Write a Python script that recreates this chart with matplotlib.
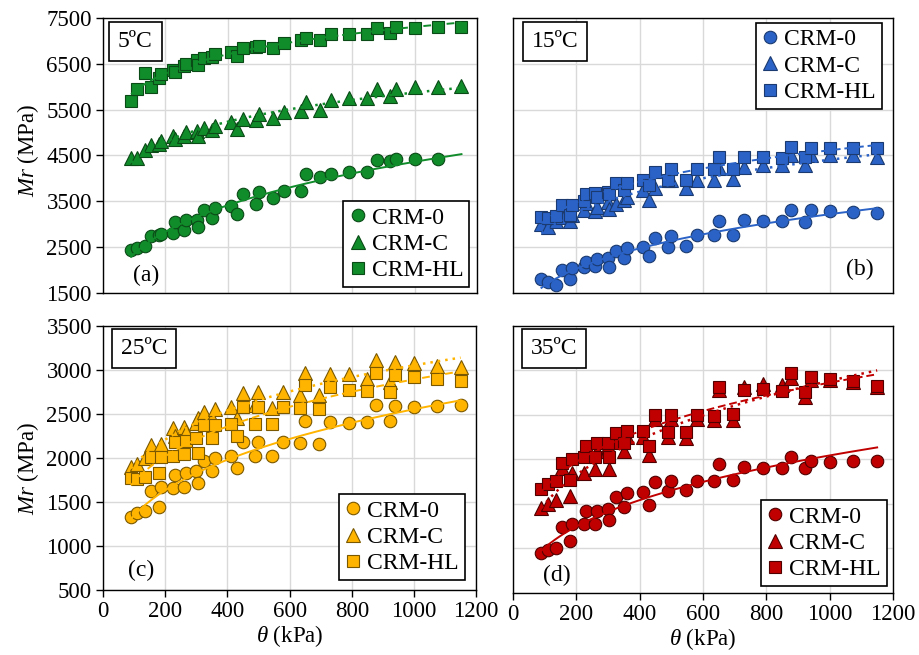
import numpy as np
import matplotlib
matplotlib.use('Agg')
import matplotlib.pyplot as plt

plt.rcParams['font.family'] = ['Liberation Serif', 'DejaVu Serif']
plt.rcParams['mathtext.fontset'] = 'custom'
plt.rcParams['mathtext.rm'] = 'Liberation Serif'
plt.rcParams['mathtext.it'] = 'Liberation Serif:italic'

# bulk stress (kPa), shared by every series
THETA = [90, 110, 136, 155, 180, 187, 225, 230, 259, 266, 300, 304, 325, 350, 360,
         410, 430, 450, 490, 500, 545, 580, 635, 650, 695, 730, 790, 848, 878, 922,
         940, 1000, 1075, 1150]

SERIES = ['CRM-0', 'CRM-C', 'CRM-HL']

# resilient modulus (MPa), 5 C
MR_5_CRM0 = [2445, 2482, 2518, 2736, 2773, 2790, 2809, 3042, 2882, 3085, 3100, 2933, 3304,
             3136, 3355, 3391, 3224, 3667, 3449, 3696, 3573, 3733, 3733, 4104, 4024, 4096,
             4133, 4133, 4409, 4387, 4424, 4424, 4424, np.nan]
MR_5_CRMC = [4445, 4445, 4627, 4736, 4758, 4809, 4918, 4860, 4918, 5005, 5027, 4918, 5100,
             5049, 5151, 5224, 5078, 5296, 5267, 5413, 5318, 5442, 5464, 5660, 5485, 5718,
             5755, 5755, 5951, 5791, 5951, 5995, 5995, 6024]
MR_5_CRMHL = [5700, 5950, 6290, 5990, 6200, 6280, 6365, 6320, 6460, 6500, 6580, 6475, 6634,
              6650, 6707, 6751, 6680, 6838, 6874, 6900, 6838, 6948, 7020, 7057, 7020, 7151,
              7151, 7151, 7289, 7164, 7310, 7289, 7310, 7310]

# 15 C
MR_15_CRM0 = [1798, 1746, 1680, 2001, 1798, 2038, 2074, 2183, 2089, 2234, 2256, 2074, 2423,
              2270, 2474, 2496, 2307, 2707, 2510, 2743, 2525, 2765, 2765, 3077, 2765, 3092,
              3077, 3077, 3310, 3055, 3310, 3295, 3273, 3252]
MR_15_CRMC = [3005, 2950, 3080, 3150, 3078, 3200, 3310, 3457, 3295, 3380, 3493, 3340, 3450,
              3529, 3600, 3747, 3529, 3800, 3965, 3965, 3784, 3965, 3965, 4220, 3980, 4256,
              4292, 4292, 4510, 4292, 4510, 4510, 4510, 4474]
MR_15_CRMHL = [3164, 3140, 3180, 3420, 3200, 3420, 3500, 3653, 3675, 3600, 3711, 3650, 3893,
               3750, 3907, 3965, 3850, 4147, 3957, 4198, 3965, 4198, 4198, 4474, 4198, 4474,
               4474, 4438, 4692, 4460, 4656, 4670, 4656, 4656]

# 25 C
MR_25_CRM0 = [1334, 1379, 1402, 1629, 1440, 1675, 1663, 1804, 1675, 1827, 1856, 1713, 1970,
              1856, 2004, 2027, 1883, 2179, 2027, 2186, 2027, 2186, 2171, 2421, 2163, 2413,
              2402, 2413, 2603, 2421, 2595, 2584, 2595, 2603]
MR_25_CRMC = [1902, 1932, 2000, 2148, 2050, 2160, 2338, 2250, 2350, 2300, 2402, 2450, 2527,
              2450, 2553, 2576, 2450, 2735, 2600, 2754, 2565, 2754, 2720, 2962, 2720, 2955,
              2955, 2894, 3114, 2860, 3090, 3076, 3050, 3038]
MR_25_CRMHL = [1770, 1760, 1788, 2016, 1825, 2016, 2027, 2186, 2045, 2197, 2224, 2061, 2375,
               2224, 2375, 2386, 2246, 2584, 2386, 2576, 2386, 2576, 2565, 2830, 2553, 2803,
               2773, 2766, 2970, 2754, 2943, 2917, 2894, 2879]

# 35 C
MR_35_CRM0 = [950, 980, 1010, 1243, 1085, 1280, 1273, 1423, 1280, 1423, 1438, 1318, 1573,
              1468, 1625, 1636, 1494, 1749, 1648, 1760, 1655, 1760, 1760, 1948, 1775, 1910,
              1899, 1899, 2030, 1899, 1985, 1974, 1985, 1985]
MR_35_CRMC = [1460, 1498, 1550, 1900, 1588, 1850, 1850, 2050, 1888, 2100, 2150, 1888, 2200,
              2098, 2250, 2250, 2049, 2450, 2255, 2450, 2236, 2450, 2443, 2780, 2443, 2810,
              2848, 2836, 2911, 2705, 2893, 2893, 2874, 2818]
MR_35_CRMHL = [1663, 1730, 1760, 1955, 1775, 2011, 2030, 2150, 2030, 2180, 2188, 2030, 2293,
               2188, 2323, 2323, 2150, 2499, 2311, 2499, 2311, 2499, 2488, 2810, 2510, 2780,
               2788, 2769, 2968, 2761, 2923, 2900, 2885, 2825]

TEMPS = ['5ºC', '15ºC', '25ºC', '35ºC']
LETTERS = ['(a)', '(b)', '(c)', '(d)']
MR = [[MR_5_CRM0, MR_5_CRMC, MR_5_CRMHL],
      [MR_15_CRM0, MR_15_CRMC, MR_15_CRMHL],
      [MR_25_CRM0, MR_25_CRMC, MR_25_CRMHL],
      [MR_35_CRM0, MR_35_CRMC, MR_35_CRMHL]]

FILL = ['#118c2b', '#2a62c6', '#ffb400', '#c00000']
EDGE = ['#0a4a16', '#1a3a70', '#7a5800', '#500000']
MARKERS = ['o', '^', 's']
MSIZE = [9, 10, 8.5]
LSTYLE = ['-', (0, (1, 2)), (0, (4, 2))]

fig = plt.figure(figsize=(9.19, 6.55), dpi=100)
boxes = [[0.1121, 0.5527, 0.407, 0.4198],
         [0.5582, 0.5527, 0.4135, 0.4198],
         [0.1121, 0.0992, 0.406, 0.4031],
         [0.5582, 0.0947, 0.4135, 0.4076]]
ylims = [(1500, 7500), (1500, 7500), (500, 3500), (500, 3500)]
ysteps = [1000, 1000, 500, 500]
leg_loc = ['lower right', 'upper right', 'lower right', 'lower right']
leg_anchor = [(0.979, 0.022), (0.971, 0.982), (0.970, 0.038), (0.984, 0.026)]
temp_pos = [(0.086, 0.913), (0.11, 0.916), (0.11, 0.913), (0.108, 0.914)]
letter_pos = [(0.115, 0.062), (0.913, 0.087), (0.102, 0.076), (0.116, 0.067)]

x = np.array(THETA, dtype=float)
for i in range(4):
    ax = fig.add_axes(boxes[i])
    handles = []
    for j in range(3):
        y = np.array(MR[i][j], dtype=float)
        h, = ax.plot(x, y, ls='none', marker=MARKERS[j], ms=MSIZE[j],
                     mfc=FILL[i], mec=EDGE[i], mew=0.8, zorder=3 + j, label=SERIES[j])
        handles.append(h)
    # power-law trendlines (Excel style), drawn over the markers
    for j in range(3):
        y = np.array(MR[i][j], dtype=float)
        ok = ~np.isnan(y)
        b, a = np.polyfit(np.log(x[ok]), np.log(y[ok]), 1)
        xf = np.linspace(x.min(), x.max(), 200)
        ax.plot(xf, np.exp(a) * xf ** b, color=FILL[i], ls=LSTYLE[j],
                lw=1.8 if j == 1 else 1.4, zorder=7)

    ax.set_xlim(0, 1200)
    ax.set_ylim(*ylims[i])
    ax.set_xticks(np.arange(0, 1201, 200))
    ax.set_yticks(np.arange(ylims[i][0], ylims[i][1] + 1, ysteps[i]))
    ax.grid(True, color='#d9d9d9', lw=1, zorder=0)
    ax.set_axisbelow(True)
    for s in ax.spines.values():
        s.set_color('black')
        s.set_linewidth(1)
    ax.tick_params(labelsize=16.5, direction='out', length=5, width=1, pad=3)
    if i in (1, 3):
        ax.tick_params(axis='y', left=False, labelleft=False)
    if i in (0, 1):
        ax.tick_params(axis='x', bottom=False, labelbottom=False)
    else:
        ax.set_xlabel(r'$\theta$ (kPa)', fontsize=16.5, labelpad=1)

    leg = ax.legend(handles=handles, loc=leg_loc[i], bbox_to_anchor=leg_anchor[i],
                    fontsize=17, frameon=True, fancybox=False, edgecolor='black',
                    framealpha=1, borderpad=0.25, labelspacing=0.2,
                    handlelength=0.7, handletextpad=0.25, borderaxespad=0)
    leg.get_frame().set_linewidth(1.2)
    leg.set_zorder(10)

    ax.text(*temp_pos[i], TEMPS[i], transform=ax.transAxes, fontsize=17,
            ha='center', va='center', zorder=10,
            bbox=dict(boxstyle='square,pad=0.38', fc='white', ec='black', lw=1.2))
    ax.text(*letter_pos[i], LETTERS[i], transform=ax.transAxes, fontsize=17,
            ha='center', va='center', zorder=10)

fig.text(28 / 919, 1 - 150 / 655, r'$Mr$ (MPa)', rotation=90, fontsize=16.5,
         ha='center', va='center')
fig.text(28 / 919, 1 - 468 / 655, r'$Mr$ (MPa)', rotation=90, fontsize=16.5,
         ha='center', va='center')

fig.savefig('out.png', dpi=100)
